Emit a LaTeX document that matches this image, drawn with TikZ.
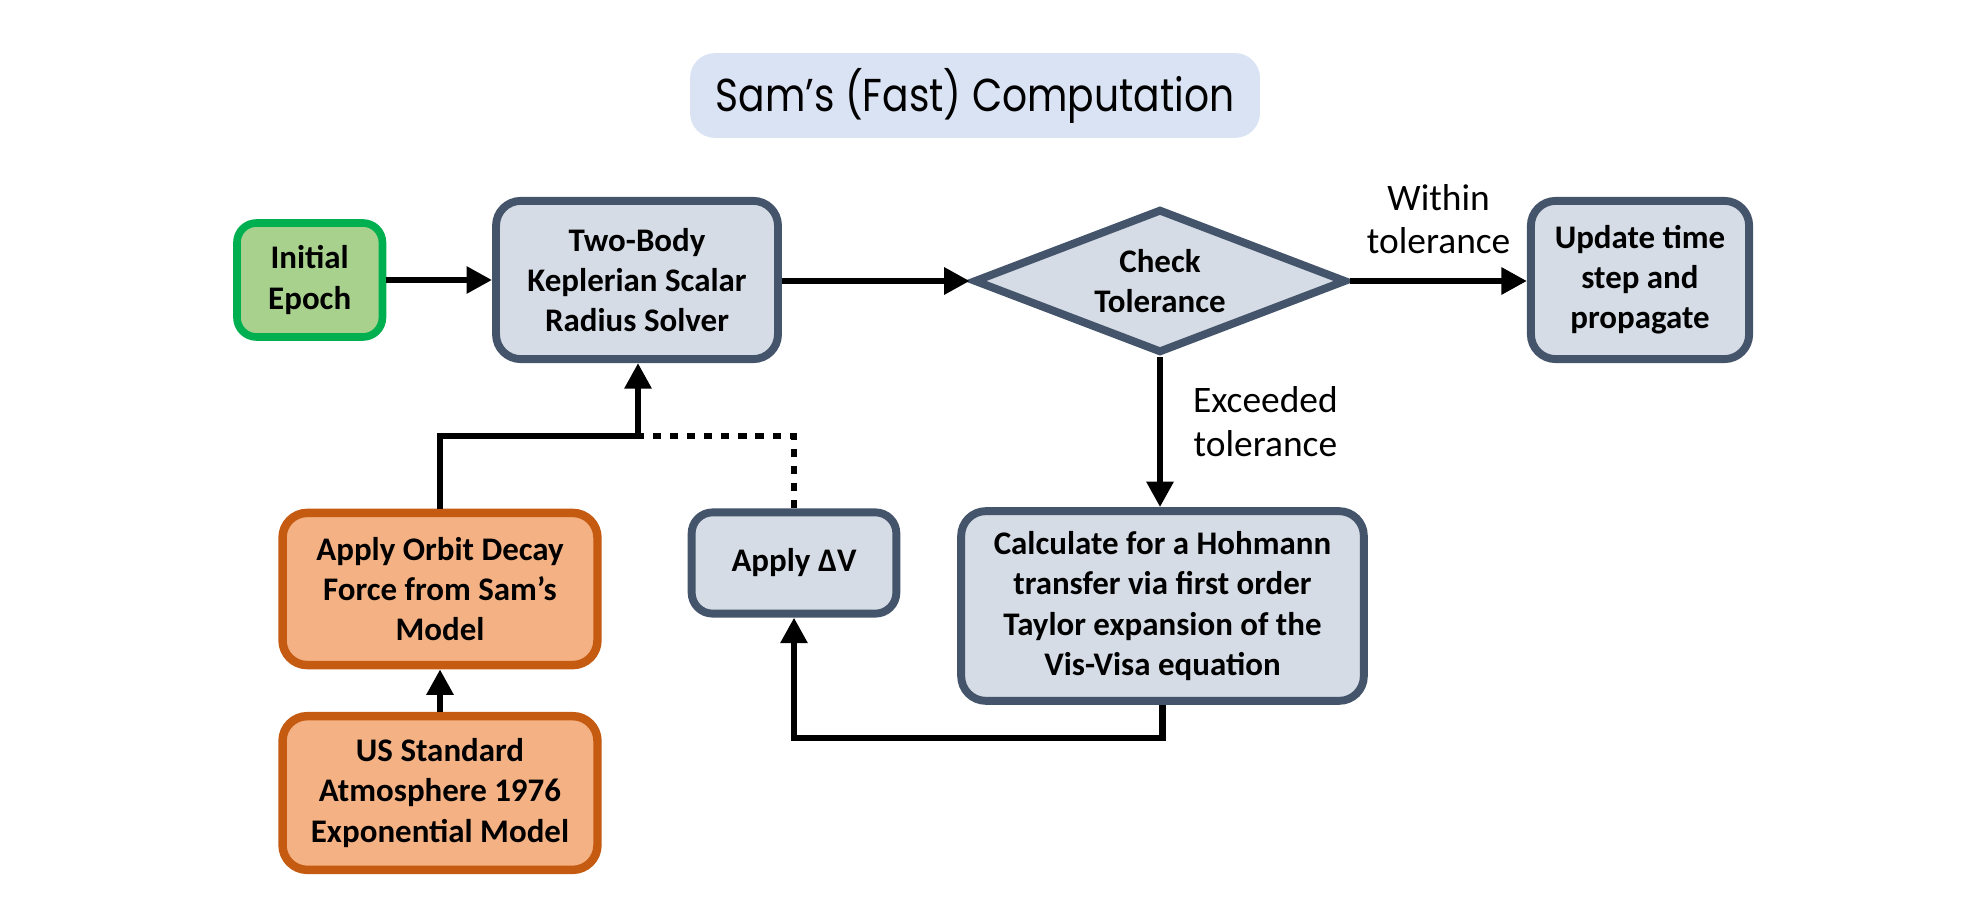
\documentclass[tikz,border=0pt]{standalone}
\usepackage{fontspec}
\setmainfont{Carlito}
\newfontfamily\titlefont{Poppins}[FakeStretch=0.85]
\usetikzlibrary{arrows.meta,shapes.geometric}
\definecolor{slatefill}{HTML}{D6DCE5}
\definecolor{slateline}{HTML}{44546A}
\definecolor{epochfill}{HTML}{A9D18E}
\definecolor{epochline}{HTML}{00B050}
\definecolor{dragfill}{HTML}{F4B183}
\definecolor{dragline}{HTML}{C55A11}
\definecolor{titlefill}{HTML}{DAE3F3}

\begin{document}
\begin{tikzpicture}[x=0.013333cm, y=0.013333cm,
	box/.style = {draw=slateline, fill=slatefill, line width=3pt, rounded corners=0.33cm,
		align=center, inner sep=0pt, font=\bfseries\fontsize{12.5}{15.2}\selectfont},
	startbox/.style = {box, draw=epochline, fill=epochfill, line width=2.9pt, rounded corners=0.26cm},
	dragbox/.style = {box, draw=dragline, fill=dragfill, line width=3.2pt},
	decision/.style = {draw=slateline, fill=slatefill, line width=3pt, diamond, aspect=2.6,
		inner sep=0pt, minimum width=4.97cm, minimum height=1.92cm},
	flow/.style = {line width=2.5pt, -{Triangle[length=9.7pt, width=9.8pt]}},
	note/.style = {align=center, font=\fontsize{14.2}{16.5}\selectfont}]
	\useasboundingbox (0,0) rectangle (1986,-924);
	\node[fill=titlefill, rounded corners=0.33cm, minimum width=7.6cm, minimum height=1.13cm,
		font=\titlefont\fontsize{17.5}{20}\selectfont] (title) at (975,-95.5) {Sam’s (Fast) Computation};
	\node[startbox, minimum width=1.94cm, minimum height=1.52cm] (epoch) at (309.7,-280) {Initial\\Epoch};
	\node[box, minimum width=3.76cm, minimum height=2.11cm] (solver) at (637,-280) {Two-Body\\Keplerian Scalar\\Radius Solver};
	\node[decision, label={[align=center, font=\bfseries\fontsize{12.5}{15.2}\selectfont]center:Check\\Tolerance}] (check) at (1160,-281) {};
	\node[box, minimum width=2.91cm, minimum height=2.11cm] (update) at (1640,-280) {Update time\\step and\\propagate};
	\node[dragbox, minimum width=4.2cm, minimum height=2.03cm] (decay) at (440,-589) {Apply Orbit Decay\\Force from Sam’s\\Model};
	\node[dragbox, minimum width=4.2cm, minimum height=2.05cm] (atmos) at (440,-793) {US Standard\\Atmosphere 1976\\Exponential Model};
	\node[box, minimum width=2.73cm, minimum height=1.35cm, rounded corners=0.28cm] (dv) at (794,-563) {Apply ΔV};
	\node[box, minimum width=5.37cm, minimum height=2.53cm] (calc) at (1162.5,-606) {Calculate for a Hohmann\\transfer via first order\\Taylor expansion of the\\Vis-Visa equation};
	\coordinate (merge) at (638,-436);
	\draw[flow] (epoch.east |- 0,-280) -- (solver.west |- 0,-280);
	\draw[flow] (solver.east |- check) -- (check.west);
	\draw[flow] (check.east) -- node[note, above=0.2cm] {Within\\tolerance} (update.west |- check);
	\draw[flow] (check.south) -- node[note, right=0.28cm, pos=0.43] {Exceeded\\tolerance} (check.south |- calc.north);
	\draw[flow] (atmos.north) -- (decay.south);
	\draw[line width=2.5pt] (decay.north) |- (merge);
	\draw[flow] (merge) -- (merge |- solver.south);
	\draw[line width=2.5pt, dash pattern=on 3.1pt off 3.4pt] (dv.north) |- (merge);
	\draw[flow] (calc.south) -- ++(0,-33) -| (dv.south);
\end{tikzpicture}
\end{document}
